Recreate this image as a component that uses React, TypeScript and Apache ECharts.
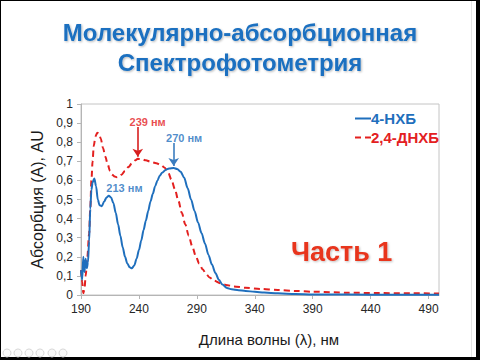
import React, { useEffect, useRef } from "react";
import * as echarts from "echarts";

const titleLines = ["Молекулярно-абсорбционная", "Спектрофотометрия"];
const seriesNames = ["4-НХБ", "2,4-ДНХБ"];
const xName = "Длина волны (λ), нм";
const yName = "Абсорбция (A), AU";
const partLabel = "Часть 1";

// 4-НХБ (solid blue): [wavelength nm, absorbance]
const nhbData: [number, number][] = [
  [190, 0.13], [191, 0.08], [192, 0.2], [193, 0.12], [194, 0.19], [195, 0.14], [196, 0.17],
  [197, 0.28], [198, 0.45], [199, 0.55], [200, 0.59], [201.5, 0.61], [203, 0.57], [204.5, 0.5],
  [206, 0.47], [208, 0.465], [210, 0.49], [212, 0.51], [214, 0.52], [216, 0.51], [218, 0.48],
  [220, 0.43], [222, 0.37], [224, 0.31], [226, 0.25], [228, 0.2], [230, 0.165], [232, 0.145],
  [234, 0.14], [236, 0.155], [238, 0.19], [240, 0.235], [242, 0.285], [244, 0.34], [246, 0.39],
  [248, 0.44], [250, 0.49], [252, 0.53], [254, 0.57], [256, 0.6], [258, 0.625], [260, 0.64],
  [263, 0.655], [266, 0.662], [270, 0.665], [273, 0.66], [276, 0.645], [279, 0.615], [282, 0.56],
  [285, 0.5], [288, 0.44], [291, 0.38], [294, 0.325], [297, 0.27], [300, 0.21], [303, 0.16],
  [306, 0.115], [309, 0.08], [312, 0.055], [316, 0.037], [320, 0.03], [326, 0.025], [332, 0.021],
  [340, 0.017], [348, 0.013], [360, 0.009], [375, 0.005], [390, 0.003], [420, 0.002], [460, 0.001],
  [499, 0.001],
];

// 2,4-ДНХБ (dashed red)
const dnhbData: [number, number][] = [
  [190, 0.13], [191, 0.07], [192, 0.01], [193, 0.03], [194, 0.1], [195.5, 0.2], [197, 0.32],
  [198, 0.45], [199, 0.6], [200, 0.7], [201, 0.78], [202.5, 0.83], [204, 0.85], [205.5, 0.845],
  [207, 0.82], [209, 0.77], [211, 0.725], [213, 0.685], [215, 0.65], [217, 0.63], [219, 0.62],
  [221, 0.617], [223, 0.62], [225, 0.63], [228, 0.65], [231, 0.67], [234, 0.69], [237, 0.705],
  [239, 0.713], [242, 0.712], [246, 0.705], [250, 0.698], [255, 0.69], [259, 0.68], [262, 0.668],
  [265, 0.645], [268, 0.605], [271, 0.555], [274, 0.495], [277, 0.43], [280, 0.37], [283, 0.31],
  [286, 0.255], [289, 0.205], [292, 0.165], [295, 0.135], [298, 0.11], [301, 0.092], [305, 0.075],
  [310, 0.062], [315, 0.053], [322, 0.045], [332, 0.038], [345, 0.032], [360, 0.026], [375, 0.021],
  [390, 0.017], [420, 0.012], [447, 0.01], [475, 0.009], [499, 0.008],
];

// peak annotations: label text, label anchor [nm, A]
const annotLabels = ["239 нм", "270 нм", "213 нм"];
const annotPos: [number, number][] = [[247.5, 0.906], [279, 0.822], [227.5, 0.56]];
// arrows: [from, to]
const arrow239: [number, number][] = [[239, 0.88], [239, 0.724]];
const arrow270: [number, number][] = [[270, 0.796], [270, 0.675]];

const BLUE = "#1f6fbd";
const RED = "#e3201f";
const ARROW_BLUE = "#3b7dbf";

export default function App() {
  const ref = useRef<HTMLDivElement>(null);
  useEffect(() => {
    if (!ref.current) return;
    const chart = echarts.init(ref.current, null, { renderer: "svg" });
    const font = "Liberation Sans, Arial, sans-serif";
    const shadow = {
      textShadowColor: "rgba(0,0,0,0.28)",
      textShadowBlur: 2,
      textShadowOffsetX: 1,
      textShadowOffsetY: 1,
    };
    const annotColors = [RED, BLUE, BLUE];
    chart.setOption({
      animation: false,
      backgroundColor: "#ffffff",
      textStyle: { fontFamily: font },
      title: {
        text: titleLines.join("\n"),
        left: "center",
        top: 12,
        textStyle: {
          fontFamily: font,
          fontSize: 24,
          fontWeight: "bold",
          lineHeight: 30,
          color: "#1a6fc0",
          ...shadow,
        },
      },
      grid: {
        left: 81,
        right: 41,
        top: 104,
        bottom: 65,
        show: true,
        borderColor: "#c4c4c4",
        borderWidth: 1,
        backgroundColor: "transparent",
      },
      legend: {
        data: [
          { name: seriesNames[0], icon: "path://M0,0H16V2H0Z", textStyle: { color: BLUE } },
          { name: seriesNames[1], icon: "path://M0,0H6V2H0Z M10,0H16V2H10Z", textStyle: { color: RED } },
        ],
        orient: "vertical",
        left: 350,
        top: 106,
        align: "left",
        itemWidth: 16,
        itemHeight: 2,
        itemGap: 4,
        textStyle: { fontFamily: font, fontSize: 15, fontWeight: "bold", padding: [0, 0, 0, -5] },
      },
      xAxis: {
        type: "value",
        min: 190,
        max: 499,
        interval: 50,
        name: xName,
        nameLocation: "middle",
        nameGap: 37,
        nameTextStyle: { fontFamily: font, fontSize: 15, color: "#1a1a1a", padding: [0, 0, 0, 18] },
        axisLine: { show: true, lineStyle: { color: "#b5b5b5" } },
        axisTick: { show: true, length: 4, lineStyle: { color: "#b5b5b5" } },
        axisLabel: { fontFamily: font, fontSize: 12, color: "#262626", margin: 8, showMaxLabel: false },
        splitLine: { show: false },
      },
      yAxis: {
        type: "value",
        min: 0,
        max: 1,
        interval: 0.1,
        name: yName,
        nameLocation: "middle",
        nameGap: 31,
        nameTextStyle: { fontFamily: font, fontSize: 16, color: "#1a1a1a" },
        axisLine: { show: true, lineStyle: { color: "#b5b5b5" } },
        axisTick: { show: true, length: 4, lineStyle: { color: "#b5b5b5" } },
        axisLabel: {
          fontFamily: font,
          fontSize: 12,
          color: "#262626",
          margin: 8,
          formatter: (v: number) =>
            v === 0 ? "0" : Math.abs(v - 1) < 1e-9 ? "1" : v.toFixed(1).replace(".", ","),
        },
        splitLine: { show: false },
      },
      series: [
        {
          name: seriesNames[1],
          type: "line",
          data: dnhbData,
          symbol: "none",
          smooth: 0.3,
          smoothMonotone: "x",
          lineStyle: { color: RED, width: 2, type: [6, 4] },
          itemStyle: { color: RED },
          z: 2,
          markLine: {
            silent: true,
            symbol: ["none", "arrow"],
            symbolSize: 8,
            label: { show: false },
            lineStyle: { color: "#d71f1f", width: 1.6, type: "solid" },
            data: [[{ coord: arrow239[0] }, { coord: arrow239[1] }]],
          },
        },
        {
          name: seriesNames[0],
          type: "line",
          data: nhbData,
          symbol: "none",
          smooth: 0.3,
          smoothMonotone: "x",
          lineStyle: { color: BLUE, width: 2 },
          itemStyle: { color: BLUE },
          z: 3,
          markLine: {
            silent: true,
            symbol: ["none", "arrow"],
            symbolSize: 8,
            label: { show: false },
            lineStyle: { color: ARROW_BLUE, width: 1.6, type: "solid" },
            data: [[{ coord: arrow270[0] }, { coord: arrow270[1] }]],
          },
        },
        {
          name: "annotations",
          type: "scatter",
          symbolSize: 0,
          silent: true,
          z: 5,
          data: annotPos.map((p, i) => ({
            value: p,
            label: {
              show: true,
              position: "inside",
              formatter: annotLabels[i],
              color: annotColors[i],
              fontFamily: font,
              fontSize: 11,
              fontWeight: "bold",
            },
          })),
        },
      ],
      graphic: [
        {
          type: "text",
          left: 291,
          top: 238,
          style: {
            text: partLabel,
            fontFamily: font,
            fontSize: 27,
            fontWeight: "bold",
            fill: "#e8341e",
            textShadowColor: "rgba(0,0,0,0.25)",
            textShadowBlur: 2,
            textShadowOffsetX: 1,
            textShadowOffsetY: 1,
          },
          z: 10,
        },
        // slide frame
        { type: "rect", shape: { x: 0, y: 0, width: 480, height: 1 }, style: { fill: "#000" }, z: 20 },
        { type: "rect", shape: { x: 0, y: 0, width: 1, height: 360 }, style: { fill: "#000" }, z: 20 },
        { type: "rect", shape: { x: 476, y: 0, width: 4, height: 360 }, style: { fill: "#000" }, z: 20 },
        { type: "rect", shape: { x: 0, y: 357, width: 480, height: 3 }, style: { fill: "#000" }, z: 20 },
        { type: "rect", shape: { x: 471, y: 1, width: 1, height: 356 }, style: { fill: "#e4e4e4" }, z: 20 },
        // slideshow control icons
        ...[7, 18, 29, 40, 52, 63].map((cx) => ({
          type: "circle",
          shape: { cx, cy: 353, r: 4 },
          style: { fill: "#fafafa", stroke: "#d8d8d8", lineWidth: 1 },
          z: 20,
        })),
      ],
    });
    return () => chart.dispose();
  }, []);
  return (
    <div
      ref={ref}
      style={{ position: "absolute", left: 0, top: 0, width: 480, height: 360 }}
    />
  );
}
